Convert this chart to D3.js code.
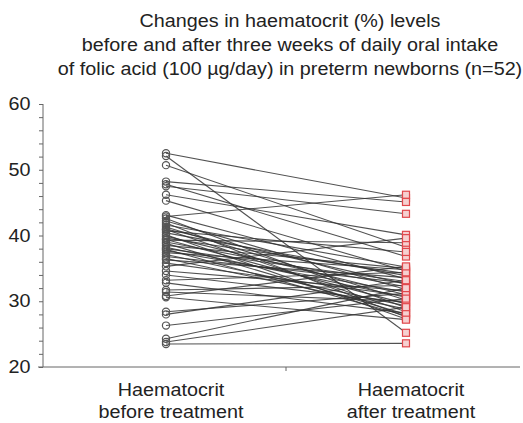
<!DOCTYPE html>
<html>
<head>
<meta charset="utf-8">
<script src="https://cdn.jsdelivr.net/npm/d3@7"></script>
<style>
  body { margin: 0; background: #fff; }
  text { font-family: "Liberation Sans", Arial, sans-serif; fill: #222; }
</style>
</head>
<body>
<div id="chart"></div>
<script>
const titleLines = [
  "Changes in haematocrit (%) levels",
  "before and after three weeks of daily oral intake",
  "of folic acid (100 \u00b5g/day) in preterm newborns (n=52)"
];
const groups = [
  ["Haematocrit", "before treatment"],
  ["Haematocrit", "after treatment"]
];
const yTicks = [20, 30, 40, 50, 60];

// haematocrit per newborn, same order in both arrays
const before = [52.5, 52.1, 50.7, 48.2, 47.8, 47.5, 46.2, 45.3, 43.1, 42.9,
  42.6, 42.2, 41.9, 41.6, 41.3, 41.0, 40.9, 40.7, 40.4, 40.1,
  39.9, 39.6, 39.4, 39.3, 39.0, 38.8, 38.5, 38.2, 38.0, 37.9,
  37.7, 37.4, 37.1, 36.8, 36.5, 36.3, 35.8, 35.3, 34.6, 34.0,
  33.2, 32.8, 31.7, 31.4, 30.8, 30.6, 28.4, 28.0, 26.3, 24.3,
  23.8, 23.5];
const after = [45.7, 25.2, 38.2, 45.1, 36.8, 43.3, 40.1, 34.6, 33.4, 46.2,
  29.0, 31.8, 27.6, 35.2, 30.2, 32.6, 28.4, 37.5, 33.9, 27.3,
  31.0, 34.2, 29.6, 38.9, 32.2, 28.0, 35.0, 30.6, 33.0, 27.8,
  31.4, 34.8, 29.3, 32.8, 28.8, 33.6, 30.8, 39.6, 31.6, 29.8,
  34.4, 28.2, 32.4, 30.0, 35.3, 27.2, 31.2, 33.2, 30.4, 32.0,
  29.1, 23.6];

const width = 523, height = 423;
const stretch = 1.13; // source text is a bit wider than tall
const svg = d3.select("#chart").append("svg")
  .attr("width", width)
  .attr("height", height);

const y = d3.scaleLinear().domain([20, 60]).range([367, 104]);
const x = d3.scaleLinear().domain([1, 2]).range([166, 406]);
const axisX = 43;

// title
svg.append("g").selectAll("text")
  .data(titleLines)
  .enter().append("text")
  .attr("transform", (d, i) => `translate(290,${27 + i * 24}) scale(${stretch},1)`)
  .attr("text-anchor", "middle")
  .style("font-size", "17.5px")
  .text(d => d);

// y axis
const yAxis = svg.append("g")
  .attr("transform", `translate(${axisX},0)`)
  .call(d3.axisLeft(y).tickValues(d3.range(20, 61, 2)).tickSize(4)
    .tickFormat(d => yTicks.includes(d) ? d : ""));
yAxis.select(".domain").attr("stroke", "#666").attr("d", `M0,${y(60)}V${y(20)}`);
yAxis.selectAll(".tick line").attr("stroke", "#666");
yAxis.selectAll(".tick text")
  .style("font-size", "17.5px")
  .attr("x", -11)
  .attr("transform", `scale(${stretch},1)`)
  .attr("fill", "#222");

// x axis
svg.append("line")
  .attr("x1", axisX - 5).attr("x2", width - 3)
  .attr("y1", y(20)).attr("y2", y(20))
  .style("stroke", "#666");
svg.append("line")
  .attr("x1", x(1.5)).attr("x2", x(1.5))
  .attr("y1", y(20)).attr("y2", y(20) + 4)
  .style("stroke", "#666");

groups.forEach((g, i) => {
  svg.append("g").selectAll("text")
    .data(g)
    .enter().append("text")
    .attr("transform", (d, j) => `translate(${x(i + 1) + 5},${396 + j * 22}) scale(${stretch},1)`)
    .attr("text-anchor", "middle")
    .style("font-size", "17.5px")
    .text(d => d);
});

// paired lines
svg.append("g")
  .selectAll("line")
  .data(before)
  .enter().append("line")
  .attr("x1", x(1))
  .attr("y1", d => y(d))
  .attr("x2", x(2))
  .attr("y2", (d, i) => y(after[i]))
  .style("stroke", "#333")
  .style("stroke-width", 1.1)
  .style("stroke-opacity", 0.85);

// before markers
svg.append("g")
  .selectAll("circle")
  .data(before)
  .enter().append("circle")
  .attr("cx", x(1))
  .attr("cy", d => y(d))
  .attr("r", 3.6)
  .style("fill", "none")
  .style("stroke", "#555")
  .style("stroke-width", 1.2);

// after markers
svg.append("g")
  .selectAll("rect")
  .data(after)
  .enter().append("rect")
  .attr("x", x(2) - 3.5)
  .attr("y", d => y(d) - 3.5)
  .attr("width", 7)
  .attr("height", 7)
  .style("fill", "#f6d0d0")
  .style("stroke", "#e0484c")
  .style("stroke-width", 1.2);
</script>
</body>
</html>
